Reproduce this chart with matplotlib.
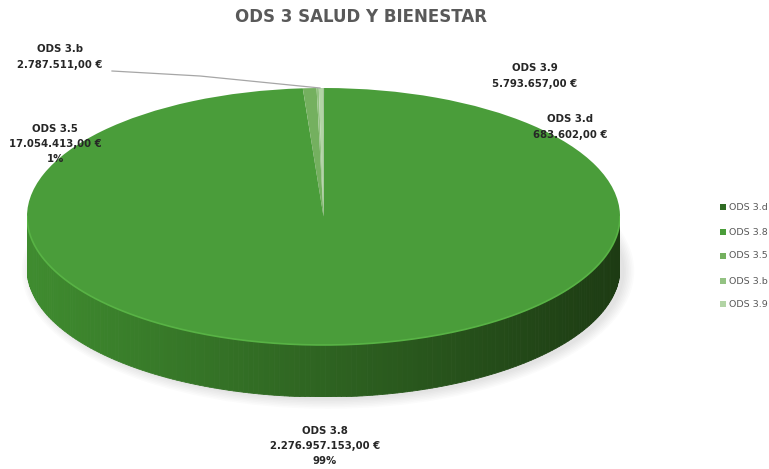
"""
ODS 3 Salud y Bienestar - 3D style pie (Excel look)
"""
import numpy as np
import matplotlib
matplotlib.use('Agg')
import matplotlib.pyplot as plt
import matplotlib.patches as mpatches
from matplotlib.colors import to_rgb

W, H = 769, 469

labels = ['ODS 3.d', 'ODS 3.8', 'ODS 3.5', 'ODS 3.b', 'ODS 3.9']
values = [683602.00, 2276957153.00, 17054413.00, 2787511.00, 5793657.00]
amounts = ['683.602,00 €', '2.276.957.153,00 €', '17.054.413,00 €', '2.787.511,00 €', '5.793.657,00 €']
pcts = ['', '99%', '1%', '', '']
colors = ['#2f6b23', '#4a9d3a', '#74b05f', '#93c282', '#b2d4a5']

# pixel geometry of the pie
LEFT, RIGHT = 27, 620
TOP, BOT = 88, 345
DEPTH = 52


def fx(px):
    return px / W


def fy(py):
    return 1 - py / H


fig = plt.figure(figsize=(W / 100, H / 100), dpi=100)

d = DEPTH / ((BOT - TOP) / 2)
ax = fig.add_axes([fx(LEFT), fy(BOT + DEPTH), (RIGHT - LEFT) / W, (BOT + DEPTH - TOP) / H])

wedges, _ = ax.pie(values, colors=colors, startangle=90, counterclock=False,
                   radius=1, wedgeprops=dict(linewidth=0, zorder=3))
ax.set_aspect('auto')
ax.set_xlim(-1, 1)
ax.set_ylim(-1 - d, 1)
ax.axis('off')

# soft shadow under the pie
for k in range(7):
    grow = 0.011 * k
    sh = mpatches.Ellipse((0.015, -d - 0.02), 2 + grow, 2 + grow * 2.2,
                          facecolor='#000000', alpha=0.016, linewidth=0,
                          zorder=0, clip_on=False)
    ax.add_patch(sh)

# front side of the cylinder, shaded from left to right
c_left = np.array(to_rgb('#3f8c2f'))
c_right = np.array(to_rgb('#1d3b13'))
ref = np.array(to_rgb('#4a9d3a'))
for wdg in wedges:
    lo, hi = wdg.theta1, wdg.theta2
    angs = np.linspace(lo, hi, max(2, int(abs(hi - lo)) + 1))
    base = np.array(to_rgb(wdg.get_facecolor()[:3]))
    for a0, a1 in zip(angs[:-1], angs[1:]):
        mid = np.deg2rad((a0 + a1) / 2)
        if np.sin(mid) >= 0:
            continue
        r0, r1 = np.deg2rad(a0), np.deg2rad(a1)
        xs = [np.cos(r0), np.cos(r1), np.cos(r1), np.cos(r0)]
        ys = [np.sin(r0), np.sin(r1), np.sin(r1) - d, np.sin(r0) - d]
        f = (np.cos(mid) + 1) / 2
        shade = np.clip((c_left + (c_right - c_left) * f) * base / ref, 0, 1)
        ax.fill(xs, ys, color=shade, linewidth=0.6, edgecolor=shade, zorder=2)

# light rim along the front edge of the top face
tt = np.linspace(np.pi, 2 * np.pi, 200)
ax.plot(np.cos(tt), np.sin(tt), color='#58b345', linewidth=1.2, zorder=4,
        solid_capstyle='round')

# title
fig.text(fx(361), fy(17), 'ODS 3 SALUD Y BIENESTAR', ha='center', va='center',
         fontsize=12, fontweight='bold', color='#595959')

# data labels
lab_pos = {
    'ODS 3.d': (570, 127),
    'ODS 3.8': (325, 446),
    'ODS 3.5': (55, 144),
    'ODS 3.b': (60, 57),
    'ODS 3.9': (535, 76),
}
for lab, amt, pc in zip(labels, amounts, pcts):
    txt = lab + '\n' + amt + ('\n' + pc if pc else '')
    x, y = lab_pos[lab]
    fig.text(fx(x), fy(y), txt, ha='center', va='center', fontsize=7.3,
             fontweight='bold', color='#262626', linespacing=1.65)

# leader line for ODS 3.b
fig.add_artist(plt.Line2D([fx(112), fx(200), fx(280), fx(320)],
                          [fy(71), fy(76), fy(84), fy(88)],
                          color='#a6a6a6', linewidth=0.9))

# legend
leg_y = [207, 232, 256, 281, 304]
for lab, col, y in zip(labels, colors, leg_y):
    fig.add_artist(mpatches.Rectangle((fx(720), fy(y + 3)), 6 / W, 6 / H,
                                      facecolor=col, edgecolor='none'))
    fig.text(fx(729), fy(y), lab, ha='left', va='center', fontsize=6.8,
             color='#595959')

fig.savefig('out.png', dpi=100)
